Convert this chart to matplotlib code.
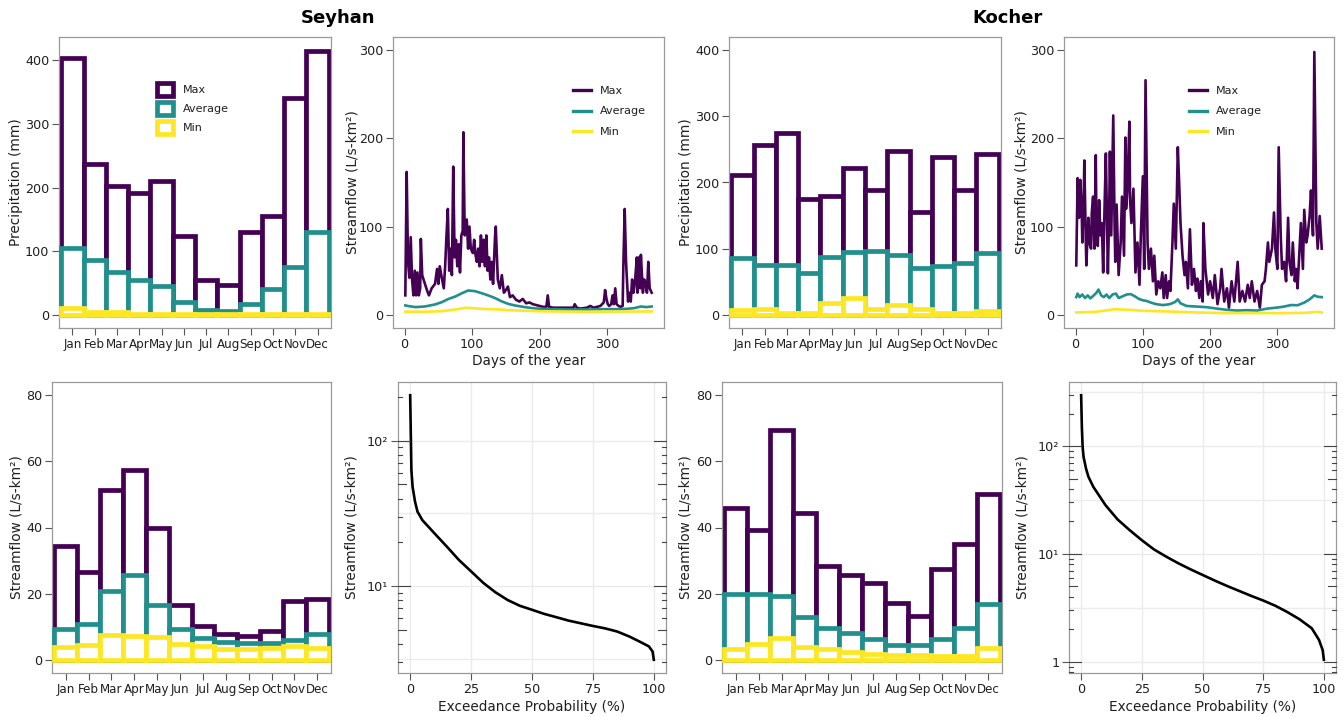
import numpy as np
import matplotlib
matplotlib.use('Agg')
import matplotlib.pyplot as plt
from matplotlib.patches import Patch
from matplotlib.lines import Line2D
from matplotlib.ticker import NullLocator

plt.rcParams['font.family'] = ['DejaVu Sans']

# ---------------- data ----------------
months = ['Jan', 'Feb', 'Mar', 'Apr', 'May', 'Jun', 'Jul', 'Aug', 'Sep', 'Oct', 'Nov', 'Dec']
series_labels = ['Max', 'Average', 'Min']

# Seyhan monthly precipitation (mm)
sey_p_max = [403, 237, 203, 192, 210, 124, 55, 47, 130, 155, 341, 415]
sey_p_avg = [105, 86, 67, 55, 46, 20, 7, 6, 17, 41, 75, 130]
sey_p_min = [10, 4, 5, 2, 1, 1, 1, 1, 0.5, 0.5, 0.5, 0.5]
# Kocher monthly precipitation (mm)
koc_p_max = [212, 257, 275, 175, 180, 222, 189, 248, 155, 238, 188, 243]
koc_p_avg = [86, 75, 76, 63, 88, 95, 97, 91, 70, 74, 78, 93]
koc_p_min = [7, 8, 3, 2, 17.5, 26, 8, 15.5, 8, 3, 2, 6]

# Seyhan monthly streamflow (L/s-km2)
sey_q_max = [34.3, 26.5, 51.4, 57.4, 39.9, 16.5, 10.2, 7.9, 7.1, 8.8, 17.7, 18.3]
sey_q_avg = [9.4, 10.8, 20.7, 25.7, 16.5, 9.4, 6.6, 5.4, 5.1, 5.2, 6.1, 7.9]
sey_q_min = [3.9, 4.4, 7.6, 7.2, 6.8, 4.9, 4.1, 3.4, 3.2, 3.6, 4.1, 3.7]
# Kocher monthly streamflow (L/s-km2)
koc_q_max = [45.9, 39.1, 69.4, 44.3, 28.3, 25.5, 23.3, 17.3, 13.1, 27.3, 34.9, 50.0]
koc_q_avg = [19.9, 19.8, 19.3, 12.8, 9.7, 8.2, 6.2, 4.6, 4.4, 6.4, 9.6, 16.8]
koc_q_min = [3.4, 4.9, 6.6, 3.9, 3.2, 2.2, 1.8, 1.3, 1.5, 1.1, 1.0, 3.5]

# Seyhan daily streamflow (day, value)
sey_d_max = [(1, 22), (3, 162), (5, 60), (7, 42), (9, 88), (11, 40), (13, 22), (15, 50), (17, 22),
             (19, 48), (21, 22), (23, 30), (24, 86), (26, 45), (28, 40), (33, 28), (36, 22), (40, 30),
             (45, 35), (48, 52), (50, 35), (52, 55), (55, 42), (58, 30), (60, 55), (62, 90), (64, 120),
             (66, 50), (68, 75), (70, 45), (72, 168), (74, 65), (76, 85), (78, 55), (80, 80), (82, 48),
             (84, 90), (86, 95), (87, 207), (89, 90), (92, 108), (94, 75), (96, 100), (98, 75),
             (101, 70), (103, 85), (105, 68), (107, 60), (109, 75), (111, 55), (113, 90), (115, 60),
             (117, 85), (119, 55), (121, 90), (123, 50), (125, 65), (127, 40), (129, 60), (131, 35),
             (134, 90), (135, 100), (138, 40), (141, 30), (144, 45), (147, 25), (150, 28), (153, 32),
             (156, 20), (160, 22), (165, 17), (170, 15), (175, 18), (180, 13), (185, 14), (190, 12),
             (195, 11), (200, 10), (205, 9), (210, 9), (212, 22), (214, 9), (220, 8), (230, 8),
             (240, 8), (250, 8), (252, 12), (255, 8), (260, 7), (270, 8), (275, 10), (280, 8),
             (285, 9), (290, 10), (295, 14), (297, 28), (299, 18), (301, 12), (303, 10), (306, 12),
             (308, 22), (310, 12), (312, 30), (314, 12), (317, 10), (320, 9), (323, 10), (324, 55),
             (326, 120), (328, 60), (331, 15), (333, 25), (335, 15), (337, 40), (339, 25), (341, 35),
             (344, 65), (345, 25), (347, 65), (349, 30), (350, 68), (353, 25), (355, 40), (357, 35),
             (359, 25), (361, 60), (363, 30), (366, 25)]
sey_d_avg = [(1, 10.6), (6, 9.8), (16, 8.7), (30, 9.4), (45, 11.7), (55, 14.3), (65, 18), (75, 20.7),
             (85, 24.5), (94, 27.5), (104, 26.8), (114, 24.5), (124, 21.9), (134, 18.9), (144, 15.1),
             (153, 12.5), (163, 10.6), (178, 8.7), (193, 7.2), (212, 6.4), (242, 6), (272, 6),
             (301, 6.4), (321, 6.4), (330, 6.8), (340, 7.5), (350, 9.4), (358, 8.7), (366, 9.4)]
sey_d_min = [(1, 3.5), (30, 3.5), (55, 4), (65, 5), (80, 6.5), (90, 8), (100, 7.5), (120, 6.5),
             (140, 6), (160, 5), (180, 4.5), (200, 4), (250, 3.5), (300, 3.5), (366, 3.8)]

# Kocher daily streamflow (day, value)
koc_d_max = [(1, 56), (3, 155), (5, 110), (7, 153), (9, 120), (10, 82), (12, 130), (13, 175), (15, 90),
             (16, 56), (18, 95), (19, 110), (21, 80), (23, 75), (24, 115), (26, 134), (28, 75), (30, 181),
             (31, 100), (33, 78), (35, 130), (37, 90), (39, 104), (41, 48), (43, 120), (45, 183), (48, 47),
             (50, 120), (51, 185), (53, 90), (56, 226), (58, 100), (59, 60), (61, 125), (64, 45), (67, 82),
             (69, 134), (72, 67), (74, 201), (75, 120), (77, 141), (80, 219), (81, 130), (83, 104),
             (86, 143), (89, 48), (92, 82), (95, 34), (97, 90), (100, 157), (102, 52), (104, 266),
             (107, 82), (109, 52), (112, 75), (115, 38), (117, 67), (120, 23), (123, 38), (126, 30),
             (129, 48), (131, 19), (134, 45), (136, 19), (139, 38), (141, 27), (144, 82), (146, 126),
             (149, 75), (152, 190), (154, 149), (156, 104), (159, 67), (162, 45), (164, 60), (167, 30),
             (170, 97), (173, 34), (176, 52), (179, 27), (181, 41), (184, 19), (186, 38), (189, 15),
             (190, 104), (193, 52), (197, 23), (200, 38), (204, 19), (207, 45), (211, 12), (215, 30),
             (217, 52), (221, 15), (225, 30), (228, 8), (232, 38), (236, 15), (241, 60), (244, 15),
             (248, 27), (252, 15), (256, 34), (259, 19), (262, 38), (266, 15), (270, 27), (274, 8),
             (277, 34), (281, 38), (283, 52), (286, 82), (288, 60), (292, 75), (295, 116), (297, 75),
             (300, 52), (302, 190), (305, 90), (307, 52), (310, 60), (313, 38), (316, 110), (318, 60),
             (321, 45), (323, 82), (326, 38), (328, 52), (330, 30), (333, 75), (335, 104), (338, 52),
             (340, 119), (343, 82), (345, 90), (348, 112), (350, 141), (353, 90), (355, 298), (358, 104),
             (360, 75), (363, 112), (366, 75)]
koc_d_avg = [(1, 20), (3, 24), (6, 20), (10, 23), (14, 19), (18, 22), (22, 18.6), (27, 22), (31, 25),
             (34, 28.6), (38, 22), (42, 20), (46, 23), (50, 19), (55, 23), (60, 24), (64, 19), (70, 21),
             (76, 23), (82, 23.4), (88, 21), (94, 18), (100, 16.4), (106, 15.6), (112, 13.8), (120, 12),
             (130, 11), (140, 12), (148, 14.5), (152, 17.5), (156, 13), (165, 10), (180, 9.3),
             (195, 8.6), (210, 7), (225, 5.6), (240, 4.8), (255, 5.2), (270, 4.8), (285, 7), (300, 8.2),
             (310, 9.3), (320, 11), (330, 10.8), (340, 13.8), (348, 17.5), (355, 22), (360, 20.4),
             (366, 20)]
koc_d_min = [(1, 2.6), (30, 3.3), (58, 6.3), (80, 5.6), (100, 4.5), (140, 3.7), (180, 2.6), (220, 1.9),
             (260, 1.9), (300, 1.9), (340, 2.2), (360, 3.3), (366, 2.6)]

# Flow duration curves (exceedance %, streamflow)
sey_fdc = [(0, 206), (0.3, 100), (0.5, 62.8), (1, 48), (2, 38), (3, 32.5), (5, 28.4), (10, 23),
           (15, 18.7), (20, 15.1), (25, 12.6), (30, 10.5), (35, 9.04), (40, 8.0), (45, 7.3), (50, 6.85),
           (55, 6.42), (60, 6.09), (65, 5.77), (70, 5.53), (75, 5.3), (80, 5.1), (85, 4.85), (90, 4.48),
           (95, 4.07), (98, 3.83), (99.5, 3.53), (100, 3.1)]
koc_fdc = [(0, 297), (0.3, 151), (0.6, 100), (1, 79.6), (2, 62), (3, 52), (5, 42), (10, 28.4),
           (15, 20.9), (20, 16.6), (25, 13.4), (30, 11.0), (35, 9.44), (40, 8.19), (45, 7.2), (50, 6.38),
           (55, 5.66), (60, 5.05), (65, 4.54), (70, 4.08), (75, 3.69), (80, 3.3), (85, 2.88), (90, 2.47),
           (95, 2.04), (98, 1.59), (99.5, 1.28), (100, 1.04)]

# ---------------- style ----------------
C_MAX, C_AVG, C_MIN = '#440154', '#21908C', '#FDE725'
COLORS = [C_MAX, C_AVG, C_MIN]
FRAME = '#9a9a9a'
TXT = '#1f1f1f'
W, H = 1343, 717

fig = plt.figure(figsize=(W / 100, H / 100), dpi=100)


def add_ax(l, t, r, b):
    return fig.add_axes([l / W, 1 - b / H, (r - l) / W, (b - t) / H])


def style(ax):
    for s in ax.spines.values():
        s.set_color(FRAME)
        s.set_linewidth(0.9)
    ax.tick_params(axis='both', which='major', direction='out', length=5, width=0.8,
                   color='#555555', labelsize=9.2, labelcolor=TXT, pad=2)


def bar_panel(ax, mx, av, mn, ylim, yticks, ylabel, ylab_x):
    style(ax)
    x = np.arange(1, 13)
    for z, (vals, c) in enumerate(zip((mx, av, mn), COLORS)):
        ax.bar(x, vals, width=1.0, facecolor='white', edgecolor=c, linewidth=3.4, zorder=2 + z)
    ax.set_xlim(0.4, 12.6)
    ax.set_ylim(*ylim)
    ax.set_xticks(x)
    ax.set_xticklabels(months, fontsize=8.6)
    ax.set_yticks(yticks)
    ax.set_ylabel(ylabel, fontsize=9.8, color=TXT, va='center')
    ax.yaxis.set_label_coords(ylab_x, 0.5)


def daily_panel(ax, mx, av, mn, ylab_x, leg_x):
    style(ax)
    for pts, c in zip((mx, av, mn), COLORS):
        d, v = zip(*pts)
        ax.plot(d, v, color=c, lw=1.9, solid_joinstyle='round')
    ax.set_xlim(-17.25, 384.25)
    ax.set_ylim(-15, 315)
    ax.set_xticks([0, 100, 200, 300])
    ax.set_yticks([0, 100, 200, 300])
    ax.set_xlabel('Days of the year', fontsize=9.8, color=TXT, va='center')
    ax.xaxis.set_label_coords(0.5, -0.113)
    ax.set_ylabel('Streamflow (L/s-km²)', fontsize=9.8, color=TXT, va='center')
    ax.yaxis.set_label_coords(ylab_x, 0.5)
    handles = [Line2D([0], [0], color=c, lw=2.4, label=l) for c, l in zip(COLORS, series_labels)]
    ax.legend(handles=handles, loc='upper left', bbox_to_anchor=(leg_x, 0.832), frameon=False,
              fontsize=8, handlelength=1.6, labelspacing=0.95, handletextpad=0.8,
              borderpad=0, borderaxespad=0, labelcolor=TXT)


def fdc_panel(ax, pts, yt, ytl, ylab_x):
    style(ax)
    p, q = zip(*pts)
    ax.set_yscale('log')
    lo, hi = np.log10(min(q)), np.log10(max(q))
    pad = 0.05 * (hi - lo)
    ymin, ymax = 10 ** (lo - pad), 10 ** (hi + pad)
    ax.set_ylim(ymin, ymax)
    ax.set_xlim(-5, 105)
    for v in [0, 25, 50, 75, 100]:
        ax.axvline(v, color='#ebebeb', lw=1.0, zorder=0)
    for k in np.arange(-1, 3.01, 0.5):
        if ymin < 10 ** k < ymax:
            ax.axhline(10 ** k, color='#ebebeb', lw=1.0, zorder=0)
    ax.plot(p, q, color='black', lw=1.9, zorder=3)
    ax.set_xticks([0, 25, 50, 75, 100])
    ax.set_yticks(yt)
    ax.set_yticklabels(ytl)
    ax.yaxis.set_minor_locator(NullLocator())
    tr = ax.get_yaxis_transform()
    for dec in [0.1, 1, 10, 100]:
        for m in range(1, 10):
            val = m * dec
            if not (ymin <= val <= ymax):
                continue
            L = 0.045 if m == 1 else (0.03 if m == 5 else 0.015)
            ax.plot([0, L], [val, val], transform=tr, color='#444444', lw=0.8, clip_on=False, zorder=4)
            ax.plot([1 - L, 1], [val, val], transform=tr, color='#444444', lw=0.8, clip_on=False, zorder=4)
    ax.set_xlabel('Exceedance Probability (%)', fontsize=9.8, color=TXT, va='center')
    ax.xaxis.set_label_coords(0.5, -0.116)
    ax.set_ylabel('Streamflow (L/s-km²)', fontsize=9.8, color=TXT, va='center')
    ax.yaxis.set_label_coords(ylab_x, 0.5)


# ---------------- panels ----------------
a1 = add_ax(59, 37, 331, 328)
bar_panel(a1, sey_p_max, sey_p_avg, sey_p_min, (-20.8, 436.8), [0, 100, 200, 300, 400],
          'Precipitation (mm)', -0.158)
handles = [Patch(facecolor='white', edgecolor=c, linewidth=3.4, label=l) for c, l in zip(COLORS, series_labels)]
a1.legend(handles=handles, loc='upper left', bbox_to_anchor=(0.360, 0.842), frameon=False, fontsize=8,
          handlelength=1.45, handleheight=1.4, labelspacing=0.57, handletextpad=0.9,
          borderpad=0, borderaxespad=0, labelcolor=TXT)

a2 = add_ax(393, 37, 664, 328)
daily_panel(a2, sey_d_max, sey_d_avg, sey_d_min, -0.151, 0.664)

a3 = add_ax(729, 37, 1001, 328)
bar_panel(a3, koc_p_max, koc_p_avg, koc_p_min, (-20, 420), [0, 100, 200, 300, 400],
          'Precipitation (mm)', -0.158)

a4 = add_ax(1064, 37, 1334, 328)
daily_panel(a4, koc_d_max, koc_d_avg, koc_d_min, -0.156, 0.463)

b1 = add_ax(52, 382, 331, 673)
bar_panel(b1, sey_q_max, sey_q_avg, sey_q_min, (-4, 84), [0, 20, 40, 60, 80],
          'Streamflow (L/s-km²)', -0.129)

b2 = add_ax(398, 382, 666, 673)
fdc_panel(b2, sey_fdc, [10, 100], ['10¹', '10²'], -0.172)

b3 = add_ax(722, 382, 1002, 673)
bar_panel(b3, koc_q_max, koc_q_avg, koc_q_min, (-4, 84), [0, 20, 40, 60, 80],
          'Streamflow (L/s-km²)', -0.129)

b4 = add_ax(1069, 382, 1336, 673)
fdc_panel(b4, koc_fdc, [1, 10, 100], ['1', '10¹', '10²'], -0.176)

fig.text(338 / W, 1 - 18 / H, 'Seyhan', ha='center', va='center', fontsize=13, fontweight='bold', color='black')
fig.text(1008 / W, 1 - 18 / H, 'Kocher', ha='center', va='center', fontsize=13, fontweight='bold', color='black')

fig.savefig('out.png', dpi=100)
